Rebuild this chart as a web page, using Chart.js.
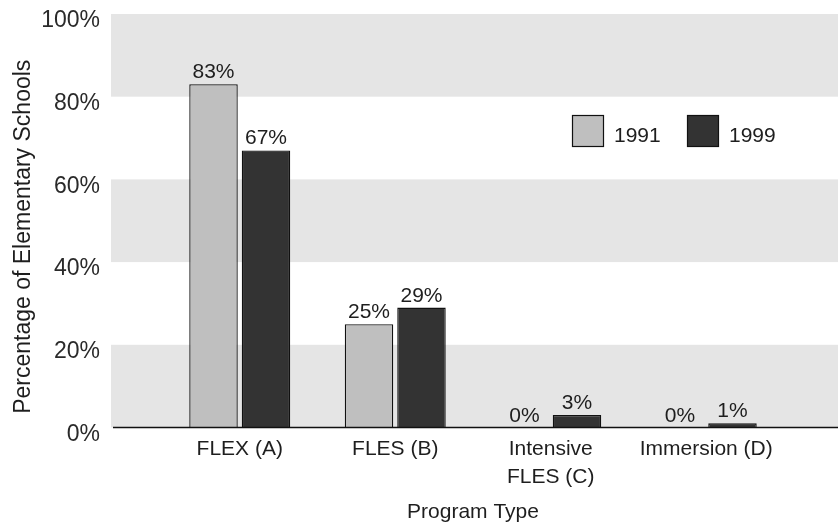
<!DOCTYPE html>
<html>
<head>
<meta charset="utf-8">
<script src="https://cdn.jsdelivr.net/npm/chart.js@4"></script>
<style>
  html, body { margin: 0; padding: 0; background: #ffffff; }
  canvas { display: block; }
</style>
</head>
<body>
<canvas id="c" width="838" height="525"></canvas>
<script>
const categories = ['FLEX (A)', 'FLES (B)', ['Intensive', 'FLES (C)'], 'Immersion (D)'];
const seriesLabels = ['1991', '1999'];
const values1991 = [83, 25, 0, 0];
const values1999 = [67, 29, 3, 1];
const yTickValues = [0, 20, 40, 60, 80, 100];
const bandRanges = [[0, 20], [40, 60], [80, 100]];
const xTitle = 'Program Type';
const yTitle = 'Percentage of Elementary Schools';

const FONT = "'Liberation Sans', Arial, Helvetica, sans-serif";
const TEXT = '#1e1e1e';

const bandsPlugin = {
  id: 'bands',
  beforeDatasetsDraw(chart) {
    const { ctx, chartArea, scales } = chart;
    const y = scales.y;
    const left = chartArea.left - 51;
    const right = chart.width;
    ctx.save();
    ctx.fillStyle = '#e5e5e5';
    bandRanges.forEach(([a, b]) => {
      const y1 = y.getPixelForValue(b);
      const y0 = y.getPixelForValue(a);
      ctx.fillRect(left, y1, right - left, y0 - y1);
    });
    ctx.restore();
  },
  afterDatasetsDraw(chart) {
    const { ctx, chartArea, scales } = chart;
    const y0 = scales.y.getPixelForValue(0);
    ctx.save();
    // baseline axis
    ctx.strokeStyle = '#111111';
    ctx.lineWidth = 1.5;
    ctx.beginPath();
    ctx.moveTo(chartArea.left - 49, y0);
    ctx.lineTo(chart.width, y0);
    ctx.stroke();
    // value labels
    ctx.fillStyle = TEXT;
    ctx.font = '21px ' + FONT;
    ctx.textAlign = 'center';
    ctx.textBaseline = 'alphabetic';
    chart.data.datasets.forEach((ds, di) => {
      const meta = chart.getDatasetMeta(di);
      meta.data.forEach((el, i) => {
        ctx.fillText(ds.data[i] + '%', el.x, el.y - 6);
      });
    });
    // legend
    const lx = chartArea.left + 410;
    const ly = chartArea.top + 101;
    chart.data.datasets.forEach((ds, di) => {
      const bx = lx + di * 115;
      ctx.fillStyle = ds.backgroundColor;
      ctx.fillRect(bx, ly, 32, 32);
      ctx.strokeStyle = '#111111';
      ctx.lineWidth = 1.2;
      ctx.strokeRect(bx + 0.5, ly + 0.5, 31, 31);
      ctx.fillStyle = TEXT;
      ctx.textAlign = 'left';
      ctx.font = '21px ' + FONT;
      ctx.fillText(ds.label, bx + 42, ly + 27);
    });
    // y axis title
    const cy = (chartArea.top + chartArea.bottom) / 2 + 16;
    ctx.translate(24, cy);
    ctx.rotate(-Math.PI / 2);
    ctx.textAlign = 'center';
    ctx.textBaseline = 'middle';
    ctx.font = '23px ' + FONT;
    ctx.fillStyle = TEXT;
    ctx.fillText(yTitle, 0, 0);
    ctx.restore();
  }
};

new Chart(document.getElementById('c'), {
  type: 'bar',
  data: {
    labels: categories,
    datasets: [
      { label: seriesLabels[0], data: values1991, backgroundColor: '#bfbfbf', borderColor: '#111111', borderWidth: 1.3, borderSkipped: 'start' },
      { label: seriesLabels[1], data: values1999, backgroundColor: '#333333', borderColor: '#111111', borderWidth: 1.3, borderSkipped: 'start' }
    ]
  },
  options: {
    responsive: false,
    devicePixelRatio: 1,
    animation: false,
    barPercentage: 0.924,
    categoryPercentage: 0.675,
    layout: { padding: { top: 14, right: 54, left: 0, bottom: 0 } },
    plugins: {
      legend: { display: false },
      tooltip: { enabled: false }
    },
    scales: {
      x: {
        grid: { display: false, drawTicks: false },
        border: { display: false },
        ticks: {
          color: TEXT,
          font: { family: FONT, size: 21, lineHeight: 1.33 },
          padding: 8,
          maxRotation: 0,
          autoSkip: false
        },
        title: {
          display: true,
          text: xTitle,
          color: TEXT,
          font: { family: FONT, size: 21 },
          padding: { top: 6, bottom: 0 }
        },
        afterFit(scale) { scale.height = 97.5; scale.paddingLeft = 0; scale.paddingRight = 0; }
      },
      y: {
        min: 0,
        max: 100,
        afterBuildTicks(scale) { scale.ticks = yTickValues.map(v => ({ value: v })); },
        grid: { display: false, drawTicks: false },
        border: { display: false },
        ticks: {
          color: '#2a2a2a',
          font: { family: FONT, size: 23 },
          padding: 62,
          labelOffset: 7,
          callback: v => v + '%'
        },
        title: { display: false },
        afterFit(scale) { scale.width = 162; scale.paddingTop = 0; scale.paddingBottom = 0; }
      }
    }
  },
  plugins: [bandsPlugin]
});
</script>
</body>
</html>
